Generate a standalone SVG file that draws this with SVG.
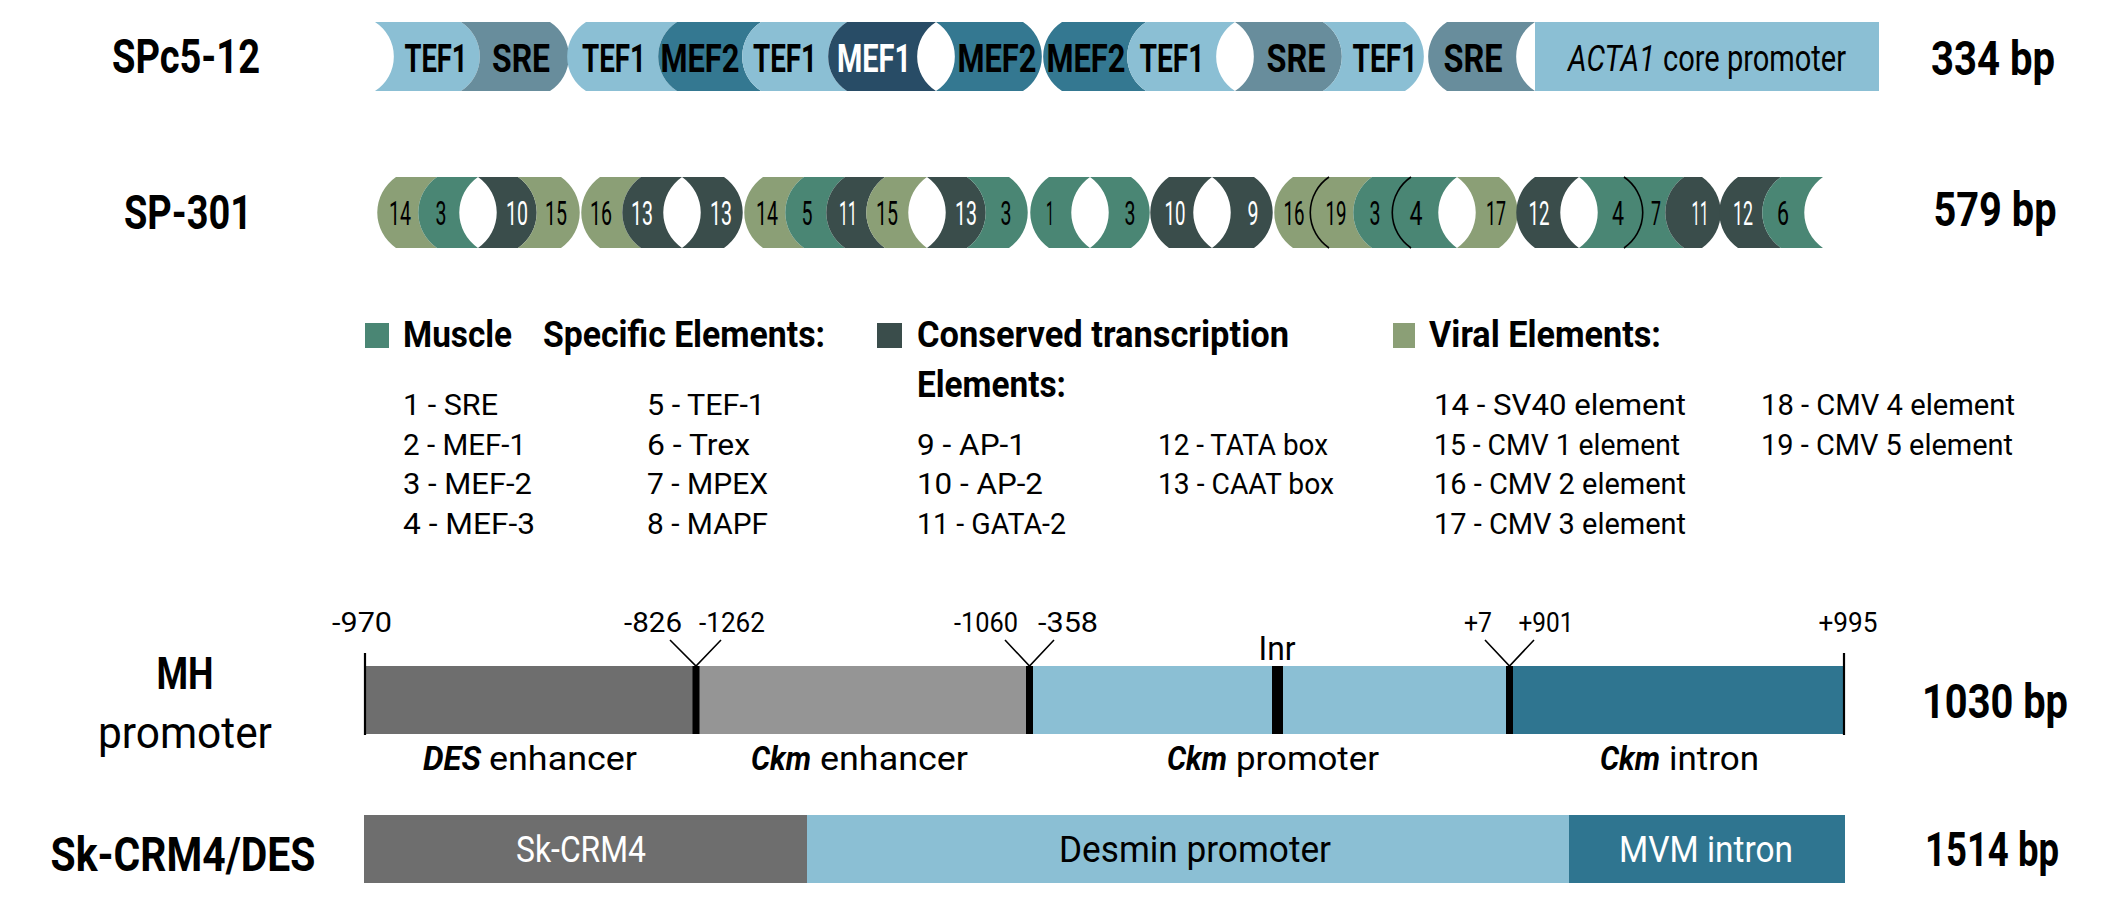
<svg xmlns="http://www.w3.org/2000/svg" width="2126" height="919" viewBox="0 0 2126 919">
<style>
text{font-family:Roboto,'Liberation Sans',sans-serif;fill:#000}
.b{font-weight:700}
.i{font-style:italic}
.m{text-anchor:middle}
.w{fill:#fff}
.lb{fill:#8BBFD4}.sre{fill:#688D9C}.m2{fill:#347891}.m1{fill:#284C66}
.ol{fill:#8B9F76}.te{fill:#4A8674}.dk{fill:#3A4D4B}
.g1{fill:#6E6E6E}.g2{fill:#959595}.it{fill:#2F7590}
.k{fill:#000}
.ln{fill:none;stroke:#000;stroke-width:1.6}
.tk{fill:none;stroke:#000;stroke-width:2.2}
.r1 text{font-size:39px;font-weight:700}
.r2 text{font-size:33px}
.lg text{font-size:29px}
.sc text{font-size:28px}
.bl text{font-size:33px}
</style>
<rect width="2126" height="919" fill="#fff"/>

<g id="labels">
<text class="b m" x="186" y="73" font-size="48" textLength="148" lengthAdjust="spacingAndGlyphs">SPc5-12</text>
<text class="b m" x="188" y="229" font-size="48" textLength="128" lengthAdjust="spacingAndGlyphs">SP-301</text>
<text class="b m" x="185" y="689" font-size="44" textLength="57" lengthAdjust="spacingAndGlyphs">MH</text>
<text class="m" x="185" y="748" font-size="44" textLength="174" lengthAdjust="spacingAndGlyphs">promoter</text>
<text class="b m" x="183" y="871" font-size="48" textLength="265" lengthAdjust="spacingAndGlyphs">Sk-CRM4/DES</text>
</g>

<g id="spc5-12" class="r1">
<path class="lb" d="M375,22H461A41,41 0 0 1 461,91H375A41,41 0 0 0 375,22Z"/>
<path class="sre" d="M461,22H550A41,41 0 0 1 550,91H461A41,41 0 0 0 461,22Z"/>
<path class="lb" d="M586,22H677A41,41 0 0 0 677,91H586A41,41 0 0 1 586,22Z"/>
<path class="m2" d="M677,22H761A41,41 0 0 0 761,91H677A41,41 0 0 1 677,22Z"/>
<path class="lb" d="M761,22H847A41,41 0 0 0 847,91H761A41,41 0 0 1 761,22Z"/>
<path class="m1" d="M847,22H936A41,41 0 0 0 936,91H847A41,41 0 0 1 847,22Z"/>
<path class="m2" d="M936,22H1023A41,41 0 0 1 1023,91H936A41,41 0 0 0 936,22Z"/>
<path class="m2" d="M1062,22H1146A41,41 0 0 0 1146,91H1062A41,41 0 0 1 1062,22Z"/>
<path class="lb" d="M1146,22H1235A41,41 0 0 0 1235,91H1146A41,41 0 0 1 1146,22Z"/>
<path class="sre" d="M1235,22H1323A41,41 0 0 1 1323,91H1235A41,41 0 0 0 1235,22Z"/>
<path class="lb" d="M1323,22H1405A41,41 0 0 1 1405,91H1323A41,41 0 0 0 1323,22Z"/>
<path class="sre" d="M1447,22H1535A41,41 0 0 0 1535,91H1447A41,41 0 0 1 1447,22Z"/>
<rect class="lb" x="1535" y="22" width="344" height="69"/>
<text class="m" x="436" y="72" textLength="63" lengthAdjust="spacingAndGlyphs">TEF1</text>
<text class="m" x="521" y="72" textLength="58" lengthAdjust="spacingAndGlyphs">SRE</text>
<text class="m" x="614" y="72" textLength="64" lengthAdjust="spacingAndGlyphs">TEF1</text>
<text class="m" x="700" y="72" textLength="79" lengthAdjust="spacingAndGlyphs">MEF2</text>
<text class="m" x="785" y="72" textLength="64" lengthAdjust="spacingAndGlyphs">TEF1</text>
<text class="m w" x="874" y="72" textLength="74" lengthAdjust="spacingAndGlyphs">MEF1</text>
<text class="m" x="997" y="72" textLength="79" lengthAdjust="spacingAndGlyphs">MEF2</text>
<text class="m" x="1086" y="72" textLength="79" lengthAdjust="spacingAndGlyphs">MEF2</text>
<text class="m" x="1172" y="72" textLength="65" lengthAdjust="spacingAndGlyphs">TEF1</text>
<text class="m" x="1296" y="72" textLength="59" lengthAdjust="spacingAndGlyphs">SRE</text>
<text class="m" x="1385" y="72" textLength="65" lengthAdjust="spacingAndGlyphs">TEF1</text>
<text class="m" x="1473" y="72" textLength="59" lengthAdjust="spacingAndGlyphs">SRE</text>
<text class="i" x="1568" y="71" style="font-size:36px;font-weight:400" textLength="87" lengthAdjust="spacingAndGlyphs">ACTA1</text>
<text x="1663" y="71" style="font-size:36px;font-weight:400" textLength="183" lengthAdjust="spacingAndGlyphs">core promoter</text>
<text class="m" x="1993" y="75" style="font-size:48px" textLength="124" lengthAdjust="spacingAndGlyphs">334 bp</text>
</g>

<g id="sp-301" class="r2">
<path class="ol" d="M396,177H437A43,43 0 0 0 437,248H396A43,43 0 0 1 396,177Z"/>
<path class="te" d="M437,177H478A43,43 0 0 0 478,248H437A43,43 0 0 1 437,177Z"/>
<path class="dk" d="M478,177H518A43,43 0 0 1 518,248H478A43,43 0 0 0 478,177Z"/>
<path class="ol" d="M518,177H561A43,43 0 0 1 561,248H518A43,43 0 0 0 518,177Z"/>
<path class="ol" d="M600,177H641A43,43 0 0 0 641,248H600A43,43 0 0 1 600,177Z"/>
<path class="dk" d="M641,177H682A43,43 0 0 0 682,248H641A43,43 0 0 1 641,177Z"/>
<path class="dk" d="M682,177H724A43,43 0 0 1 724,248H682A43,43 0 0 0 682,177Z"/>
<path class="ol" d="M763,177H804A43,43 0 0 0 804,248H763A43,43 0 0 1 763,177Z"/>
<path class="te" d="M804,177H845A43,43 0 0 0 845,248H804A43,43 0 0 1 804,177Z"/>
<path class="dk" d="M845,177H885A43,43 0 0 0 885,248H845A43,43 0 0 1 845,177Z"/>
<path class="ol" d="M885,177H927A43,43 0 0 0 927,248H885A43,43 0 0 1 885,177Z"/>
<path class="dk" d="M927,177H967A43,43 0 0 1 967,248H927A43,43 0 0 0 927,177Z"/>
<path class="te" d="M967,177H1009A43,43 0 0 1 1009,248H967A43,43 0 0 0 967,177Z"/>
<path class="te" d="M1049,177H1090A43,43 0 0 0 1090,248H1049A43,43 0 0 1 1049,177Z"/>
<path class="te" d="M1090,177H1131A43,43 0 0 1 1131,248H1090A43,43 0 0 0 1090,177Z"/>
<path class="dk" d="M1169,177H1212A43,43 0 0 0 1212,248H1169A43,43 0 0 1 1169,177Z"/>
<path class="dk" d="M1212,177H1254A43,43 0 0 1 1254,248H1212A43,43 0 0 0 1212,177Z"/>
<path class="ol" d="M1293,177H1329A43,43 0 0 0 1329,248H1293A43,43 0 0 1 1293,177Z"/>
<path class="ol" d="M1329,177H1372A43,43 0 0 0 1372,248H1329A43,43 0 0 1 1329,177Z"/>
<path class="te" d="M1372,177H1411A43,43 0 0 0 1411,248H1372A43,43 0 0 1 1372,177Z"/>
<path class="te" d="M1411,177H1457A43,43 0 0 0 1457,248H1411A43,43 0 0 1 1411,177Z"/>
<path class="ol" d="M1457,177H1499A43,43 0 0 1 1499,248H1457A43,43 0 0 0 1457,177Z"/>
<path class="dk" d="M1535,177H1579A43,43 0 0 0 1579,248H1535A43,43 0 0 1 1535,177Z"/>
<path class="te" d="M1579,177H1624A43,43 0 0 1 1624,248H1579A43,43 0 0 0 1579,177Z"/>
<path class="te" d="M1624,177H1684A43,43 0 0 0 1684,248H1624A43,43 0 0 0 1624,177Z"/>
<path class="dk" d="M1684,177H1702A43,43 0 0 1 1702,248H1684A43,43 0 0 1 1684,177Z"/>
<path class="dk" d="M1738,177H1781A43,43 0 0 0 1781,248H1738A43,43 0 0 1 1738,177Z"/>
<path class="te" d="M1781,177H1823A43,43 0 0 0 1823,248H1781A43,43 0 0 1 1781,177Z"/>
<path class="ln" d="M1329,177A43,43 0 0 0 1329,248M1411,177A43,43 0 0 0 1411,248M1624,177A43,43 0 0 1 1624,248"/>
<text class="m" x="400" y="225" textLength="22" lengthAdjust="spacingAndGlyphs">14</text>
<text class="m" x="441" y="225" textLength="11" lengthAdjust="spacingAndGlyphs">3</text>
<text class="m w" x="517" y="225" textLength="22" lengthAdjust="spacingAndGlyphs">10</text>
<text class="m" x="556" y="225" textLength="22" lengthAdjust="spacingAndGlyphs">15</text>
<text class="m" x="601" y="225" textLength="22" lengthAdjust="spacingAndGlyphs">16</text>
<text class="m w" x="642" y="225" textLength="22" lengthAdjust="spacingAndGlyphs">13</text>
<text class="m w" x="721" y="225" textLength="22" lengthAdjust="spacingAndGlyphs">13</text>
<text class="m" x="767" y="225" textLength="22" lengthAdjust="spacingAndGlyphs">14</text>
<text class="m" x="807" y="225" textLength="11" lengthAdjust="spacingAndGlyphs">5</text>
<text class="m w" x="848" y="225" textLength="18" lengthAdjust="spacingAndGlyphs">11</text>
<text class="m" x="887" y="225" textLength="22" lengthAdjust="spacingAndGlyphs">15</text>
<text class="m w" x="966" y="225" textLength="22" lengthAdjust="spacingAndGlyphs">13</text>
<text class="m" x="1006" y="225" textLength="11" lengthAdjust="spacingAndGlyphs">3</text>
<text class="m" x="1050" y="225" textLength="8" lengthAdjust="spacingAndGlyphs">1</text>
<text class="m" x="1130" y="225" textLength="11" lengthAdjust="spacingAndGlyphs">3</text>
<text class="m w" x="1175" y="225" textLength="21" lengthAdjust="spacingAndGlyphs">10</text>
<text class="m w" x="1253" y="225" textLength="11" lengthAdjust="spacingAndGlyphs">9</text>
<text class="m" x="1294" y="225" textLength="21" lengthAdjust="spacingAndGlyphs">16</text>
<text class="m" x="1336" y="225" textLength="21" lengthAdjust="spacingAndGlyphs">19</text>
<text class="m" x="1375" y="225" textLength="11" lengthAdjust="spacingAndGlyphs">3</text>
<text class="m" x="1416" y="225" textLength="13" lengthAdjust="spacingAndGlyphs">4</text>
<text class="m" x="1496" y="225" textLength="20" lengthAdjust="spacingAndGlyphs">17</text>
<text class="m w" x="1539" y="225" textLength="21" lengthAdjust="spacingAndGlyphs">12</text>
<text class="m" x="1618" y="225" textLength="12" lengthAdjust="spacingAndGlyphs">4</text>
<text class="m" x="1656" y="225" textLength="10" lengthAdjust="spacingAndGlyphs">7</text>
<text class="m w" x="1700" y="225" textLength="17" lengthAdjust="spacingAndGlyphs">11</text>
<text class="m w" x="1743" y="225" textLength="20" lengthAdjust="spacingAndGlyphs">12</text>
<text class="m" x="1783" y="225" textLength="12" lengthAdjust="spacingAndGlyphs">6</text>
<text class="m b" x="1995" y="226" style="font-size:48px" textLength="123" lengthAdjust="spacingAndGlyphs">579 bp</text>
</g>

<g id="legend" class="lg">
<rect class="te" x="365" y="323" width="24" height="25"/>
<rect class="dk" x="877" y="323" width="25" height="25"/>
<rect class="ol" x="1393" y="323" width="22" height="25"/>
<text class="b" x="403" y="347" style="font-size:37px" textLength="109" lengthAdjust="spacingAndGlyphs">Muscle</text>
<text class="b" x="543" y="347" style="font-size:37px" textLength="282" lengthAdjust="spacingAndGlyphs">Specific Elements:</text>
<text class="b" x="917" y="347" style="font-size:37px" textLength="372" lengthAdjust="spacingAndGlyphs">Conserved transcription</text>
<text class="b" x="917" y="397" style="font-size:37px" textLength="149" lengthAdjust="spacingAndGlyphs">Elements:</text>
<text class="b" x="1429" y="347" style="font-size:37px" textLength="232" lengthAdjust="spacingAndGlyphs">Viral Elements:</text>
<text x="403" y="415" textLength="95" lengthAdjust="spacingAndGlyphs">1 - SRE</text>
<text x="403" y="454.5" textLength="123" lengthAdjust="spacingAndGlyphs">2 - MEF-1</text>
<text x="403" y="494" textLength="129" lengthAdjust="spacingAndGlyphs">3 - MEF-2</text>
<text x="403" y="533.5" textLength="132" lengthAdjust="spacingAndGlyphs">4 - MEF-3</text>
<text x="647" y="415" textLength="118" lengthAdjust="spacingAndGlyphs">5 - TEF-1</text>
<text x="647" y="454.5" textLength="103" lengthAdjust="spacingAndGlyphs">6 - Trex</text>
<text x="647" y="494" textLength="121" lengthAdjust="spacingAndGlyphs">7 - MPEX</text>
<text x="647" y="533.5" textLength="121" lengthAdjust="spacingAndGlyphs">8 - MAPF</text>
<text x="917" y="454.5" textLength="109" lengthAdjust="spacingAndGlyphs">9 - AP-1</text>
<text x="917" y="494" textLength="126" lengthAdjust="spacingAndGlyphs">10 - AP-2</text>
<text x="917" y="533.5" textLength="149" lengthAdjust="spacingAndGlyphs">11 - GATA-2</text>
<text x="1158" y="454.5" textLength="170" lengthAdjust="spacingAndGlyphs">12 - TATA box</text>
<text x="1158" y="494" textLength="176" lengthAdjust="spacingAndGlyphs">13 - CAAT box</text>
<text x="1434" y="415" textLength="252" lengthAdjust="spacingAndGlyphs">14 - SV40 element</text>
<text x="1434" y="454.5" textLength="246" lengthAdjust="spacingAndGlyphs">15 - CMV 1 element</text>
<text x="1434" y="494" textLength="252" lengthAdjust="spacingAndGlyphs">16 - CMV 2 element</text>
<text x="1434" y="533.5" textLength="252" lengthAdjust="spacingAndGlyphs">17 - CMV 3 element</text>
<text x="1761" y="415" textLength="254" lengthAdjust="spacingAndGlyphs">18 - CMV 4 element</text>
<text x="1761" y="454.5" textLength="252" lengthAdjust="spacingAndGlyphs">19 - CMV 5 element</text>
</g>

<g id="mh-promoter">
<rect class="g1" x="365" y="666" width="331" height="68"/>
<rect class="g2" x="696" y="666" width="334" height="68"/>
<rect class="lb" x="1030" y="666" width="479" height="68"/>
<rect class="it" x="1509" y="666" width="335" height="68"/>
<rect class="k" x="692.5" y="666" width="7" height="68"/>
<rect class="k" x="1026" y="666" width="7" height="68"/>
<rect class="k" x="1506" y="666" width="7" height="68"/>
<rect class="k" x="1272" y="666" width="11" height="68"/>
<path class="tk" d="M365,653V735M1844,653V735"/>
<path class="ln" d="M670,640L696,666L721,640M1005,640L1029.5,666L1054,640M1485,640L1509.5,666L1534,640"/>
<g class="sc">
<text class="m" x="362" y="632" textLength="60" lengthAdjust="spacingAndGlyphs">-970</text>
<text class="m" x="653" y="632" textLength="58" lengthAdjust="spacingAndGlyphs">-826</text>
<text class="m" x="732" y="632" textLength="66" lengthAdjust="spacingAndGlyphs">-1262</text>
<text class="m" x="986" y="632" textLength="64" lengthAdjust="spacingAndGlyphs">-1060</text>
<text class="m" x="1068" y="632" textLength="60" lengthAdjust="spacingAndGlyphs">-358</text>
<text class="m" x="1277" y="660" style="font-size:34px" textLength="37" lengthAdjust="spacingAndGlyphs">Inr</text>
<text class="m" x="1478" y="632" textLength="28" lengthAdjust="spacingAndGlyphs">+7</text>
<text class="m" x="1546" y="632" textLength="55" lengthAdjust="spacingAndGlyphs">+901</text>
<text class="m" x="1848" y="632" textLength="59" lengthAdjust="spacingAndGlyphs">+995</text>
</g>
<g class="bl">
<text class="b i" x="423" y="770" textLength="58" lengthAdjust="spacingAndGlyphs">DES</text>
<text x="489" y="770" textLength="148" lengthAdjust="spacingAndGlyphs">enhancer</text>
<text class="b i" x="751" y="770" textLength="60" lengthAdjust="spacingAndGlyphs">Ckm</text>
<text x="820" y="770" textLength="148" lengthAdjust="spacingAndGlyphs">enhancer</text>
<text class="b i" x="1167" y="770" textLength="60" lengthAdjust="spacingAndGlyphs">Ckm</text>
<text x="1236" y="770" textLength="143" lengthAdjust="spacingAndGlyphs">promoter</text>
<text class="b i" x="1600" y="770" textLength="60" lengthAdjust="spacingAndGlyphs">Ckm</text>
<text x="1669" y="770" textLength="90" lengthAdjust="spacingAndGlyphs">intron</text>
</g>
<text class="m b" x="1995" y="718" font-size="48" textLength="146" lengthAdjust="spacingAndGlyphs">1030 bp</text>
</g>

<g id="sk-crm4-des">
<rect class="g1" x="364" y="815" width="443" height="68"/>
<rect class="lb" x="807" y="815" width="762" height="68"/>
<rect class="it" x="1569" y="815" width="276" height="68"/>
<text class="m w" x="581" y="862" font-size="37" textLength="130" lengthAdjust="spacingAndGlyphs">Sk-CRM4</text>
<text class="m" x="1195" y="862" font-size="37" textLength="272" lengthAdjust="spacingAndGlyphs">Desmin promoter</text>
<text class="m w" x="1706" y="862" font-size="37" textLength="174" lengthAdjust="spacingAndGlyphs">MVM intron</text>
<text class="m b" x="1992" y="866" font-size="48" textLength="134" lengthAdjust="spacingAndGlyphs">1514 bp</text>
</g>
</svg>
